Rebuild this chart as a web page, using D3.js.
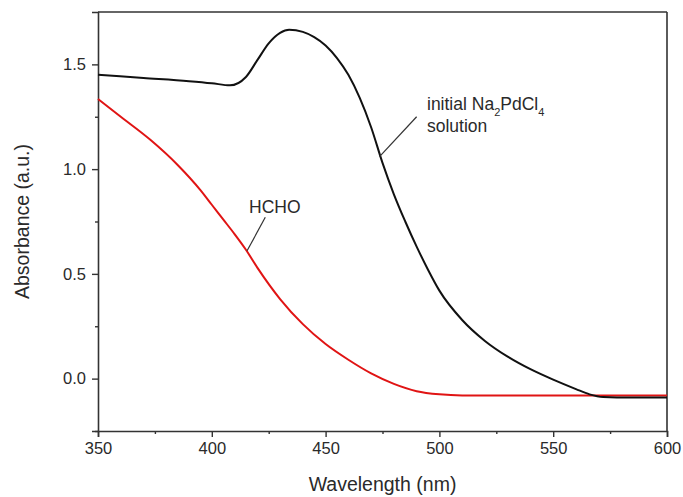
<!DOCTYPE html>
<html>
<head>
<meta charset="utf-8">
<script src="https://cdn.jsdelivr.net/npm/d3@7"></script>
<style>
  body { margin: 0; background: #fff; }
  text { font-family: "Liberation Sans", Arial, sans-serif; fill: #2a2a2a; }
</style>
</head>
<body>
<div id="chart"></div>
<script>
// wavelength (nm) and absorbance
const naPdWave = [350, 370, 390, 400, 408, 415, 420, 425, 430, 434, 440, 445, 450, 455, 460, 465, 470, 475, 480, 485, 490, 495, 500, 510, 520, 530, 540, 550, 560, 566, 572, 578, 600];
const naPdAbs  = [1.45, 1.435, 1.42, 1.41, 1.40, 1.44, 1.52, 1.60, 1.65, 1.665, 1.655, 1.63, 1.59, 1.53, 1.45, 1.34, 1.20, 1.03, 0.88, 0.75, 0.63, 0.52, 0.42, 0.28, 0.18, 0.105, 0.045, -0.005, -0.05, -0.075, -0.088, -0.09, -0.09];

const hchoWave = [350, 360, 373, 385, 395, 400, 405, 410, 415, 420, 430, 440, 450, 460, 470, 480, 490, 500, 510, 530, 560, 600];
const hchoAbs  = [1.335, 1.25, 1.14, 1.02, 0.90, 0.83, 0.76, 0.69, 0.615, 0.53, 0.38, 0.26, 0.165, 0.09, 0.025, -0.025, -0.06, -0.075, -0.08, -0.08, -0.08, -0.08];

const xTicks = [350, 400, 450, 500, 550, 600];
const yTicks = [0.0, 0.5, 1.0, 1.5];

const W = 683, H = 497;
const m = { left: 98, right: 16, top: 12, bottom: 66 };

const svg = d3.select("#chart").append("svg")
    .attr("width", W)
    .attr("height", H);

const x = d3.scaleLinear().domain([350, 600]).range([m.left, W - m.right]);
const y = d3.scaleLinear().domain([-0.25, 1.75]).range([H - m.bottom, m.top]);

const axisColor = "#333";

// minor ticks
const xMinor = d3.range(375, 600, 50);
const yMinor = [-0.25, 0.25, 0.75, 1.25];

svg.append("g")
    .attr("transform", `translate(0,${H - m.bottom})`)
    .call(d3.axisBottom(x).tickValues(xTicks).tickFormat(d3.format("d")).tickSize(6).tickPadding(5));
svg.append("g")
    .attr("transform", `translate(0,${H - m.bottom})`)
    .call(d3.axisBottom(x).tickValues(xMinor).tickFormat("").tickSize(3))
    .select(".domain").remove();

svg.append("g")
    .attr("transform", `translate(${m.left},0)`)
    .call(d3.axisLeft(y).tickValues(yTicks).tickFormat(d3.format(".1f")).tickSize(6).tickPadding(6));
svg.append("g")
    .attr("transform", `translate(${m.left},0)`)
    .call(d3.axisLeft(y).tickValues(yMinor).tickFormat("").tickSize(3))
    .select(".domain").remove();

svg.selectAll(".domain").attr("stroke", axisColor).attr("stroke-width", 1.6);
svg.selectAll(".tick line").attr("stroke", axisColor).attr("stroke-width", 1.4);
svg.selectAll(".tick text").style("font-size", "16.5px").attr("fill", "#2a2a2a");

// frame on top and right
svg.append("line")
    .attr("x1", m.left).attr("x2", W - m.right)
    .attr("y1", m.top).attr("y2", m.top)
    .attr("stroke", axisColor).attr("stroke-width", 1.6);
svg.append("line")
    .attr("x1", W - m.right).attr("x2", W - m.right)
    .attr("y1", m.top).attr("y2", H - m.bottom)
    .attr("stroke", axisColor).attr("stroke-width", 1.6);

const line = d3.line()
    .x(d => x(d[0]))
    .y(d => y(d[1]))
    .curve(d3.curveMonotoneX);

const plot = svg.append("g");
plot.append("path")
    .datum(d3.zip(hchoWave, hchoAbs))
    .attr("d", line)
    .attr("fill", "none")
    .attr("stroke", "#e01414")
    .attr("stroke-width", 2);
plot.append("path")
    .datum(d3.zip(naPdWave, naPdAbs))
    .attr("d", line)
    .attr("fill", "none")
    .attr("stroke", "#111")
    .attr("stroke-width", 2);

// annotations
svg.append("line")
    .attr("x1", x(473.7)).attr("y1", y(1.06))
    .attr("x2", x(490)).attr("y2", y(1.25))
    .attr("stroke", "#333").attr("stroke-width", 1.2);
const t1 = svg.append("text")
    .attr("x", 427).attr("y", 110)
    .style("font-size", "17.5px");
t1.append("tspan").text("initial Na");
t1.append("tspan").attr("baseline-shift", "sub").style("font-size", "11px").text("2");
t1.append("tspan").text("PdCl");
t1.append("tspan").attr("baseline-shift", "sub").style("font-size", "11px").text("4");
svg.append("text")
    .attr("x", 427).attr("y", 132)
    .style("font-size", "17.5px")
    .text("solution");

svg.append("line")
    .attr("x1", x(415.5)).attr("y1", y(0.61))
    .attr("x2", x(423.5)).attr("y2", y(0.77))
    .attr("stroke", "#333").attr("stroke-width", 1.2);
svg.append("text")
    .attr("x", 249).attr("y", 213)
    .style("font-size", "17.5px")
    .text("HCHO");

// axis titles
svg.append("text")
    .attr("x", (m.left + W - m.right) / 2)
    .attr("y", 491)
    .attr("text-anchor", "middle")
    .style("font-size", "19.5px")
    .text("Wavelength (nm)");
svg.append("text")
    .attr("transform", `translate(29,${(m.top + H - m.bottom) / 2}) rotate(-90)`)
    .attr("text-anchor", "middle")
    .style("font-size", "19.5px")
    .text("Absorbance (a.u.)");
</script>
</body>
</html>
